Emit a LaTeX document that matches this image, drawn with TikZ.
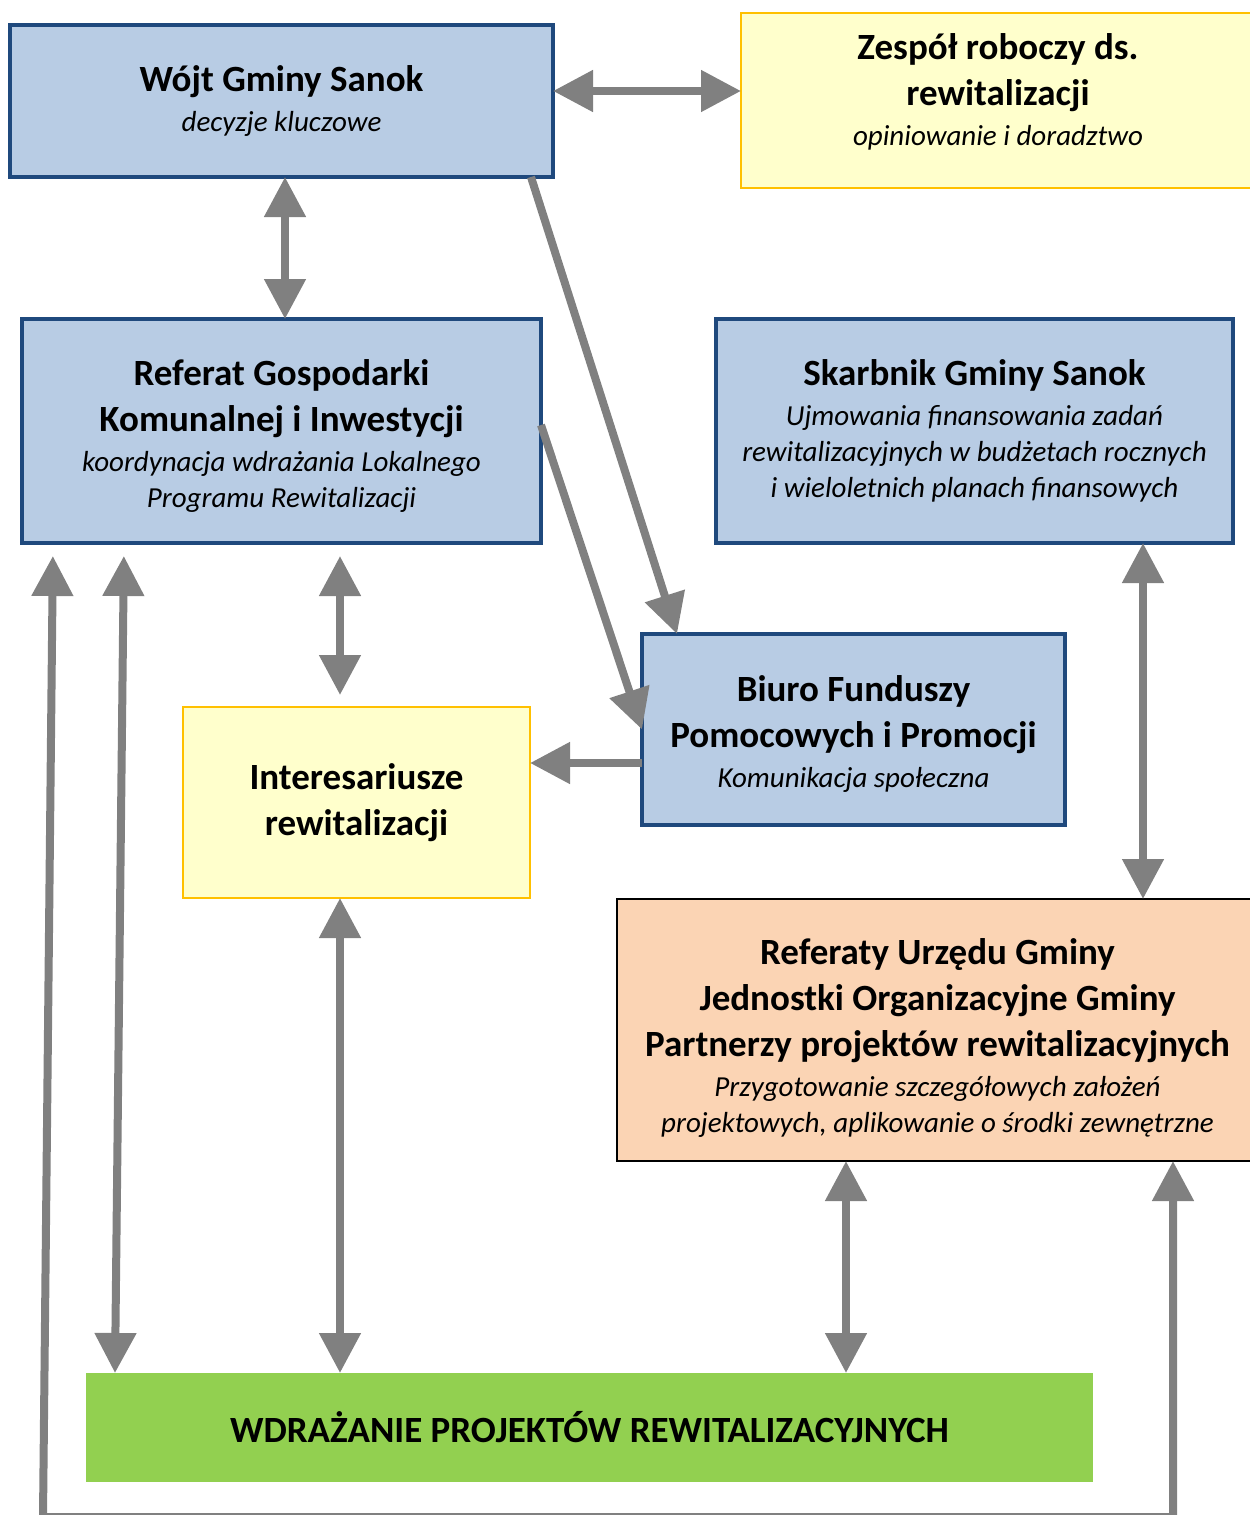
\documentclass[tikz,border=0pt]{standalone}
\usepackage{fontspec}
\setmainfont{Carlito}
\usetikzlibrary{arrows.meta}
\definecolor{niebieski}{HTML}{B8CCE4}
\definecolor{granat}{HTML}{1F497D}
\definecolor{zolty}{HTML}{FFFFCC}
\definecolor{pomarancz}{HTML}{FFC000}
\definecolor{brzoskwinia}{HTML}{FBD4B4}
\definecolor{zielony}{HTML}{92D050}
\definecolor{szary}{HTML}{808080}
\newcommand{\opis}{\fontsize{29}{36}\selectfont\mdseries\itshape}

\begin{document}
\begin{tikzpicture}[line join=miter,x=1pt,y=-1pt,>={Triangle[width=40pt,length=40pt]},
  box/.style={outer sep=0pt,inner sep=2pt,align=center,font=\fontsize{37}{46}\selectfont\bfseries},
  bluebox/.style={box,draw=granat,line width=3.5pt,fill=niebieski},
  yellowbox/.style={box,draw=pomarancz,line width=2pt,fill=zolty},
  arr/.style={draw=szary,line width=8pt}]
\useasboundingbox (0,0) rectangle (1250,1515);
\node[bluebox,minimum width=543,minimum height=152] (wojt) at (281.5,101) {W\'ojt Gminy Sanok\\[-6pt]\opis decyzje kluczowe};
\node[yellowbox,minimum width=514,minimum height=175] (zes) at (998,100.5) {};
\node[box] (zes-t) at (998,91.5) {Zespół roboczy ds.\\rewitalizacji\\[-6pt]\opis opiniowanie i doradztwo};
\node[bluebox,minimum width=519,minimum height=224] (ref) at (281.5,431) {};
\node[box] (ref-t) at (281.5,436) {Referat Gospodarki\\Komunalnej i Inwestycji\\[-6pt]\opis koordynacja wdrażania Lokalnego\\[-10pt]\opis Programu Rewitalizacji};
\node[bluebox,minimum width=517,minimum height=224] (skarb) at (974.5,431) {Skarbnik Gminy Sanok\\[-6pt]\opis Ujmowania finansowania zadań\\[-10pt]\opis rewitalizacyjnych w budżetach rocznych\\[-10pt]\opis i wieloletnich planach finansowych};
\node[bluebox,minimum width=423,minimum height=191] (biuro) at (853.5,729.5) {};
\node[box] (biuro-t) at (853.5,734) {Biuro Funduszy\\Pomocowych i Promocji\\[-6pt]\opis Komunikacja społeczna};
\node[yellowbox,minimum width=347,minimum height=191] (int) at (356.5,802.5) {Interesariusze\\rewitalizacji};
\node[box,draw=black,line width=2pt,fill=brzoskwinia,minimum width=641,minimum height=262] (refy) at (937.5,1030) {};
\node[box] (refy-t) at (937.5,1038) {Referaty Urzędu Gminy\\Jednostki Organizacyjne Gminy\\Partnerzy projektów rewitalizacyjnych\\[-6pt]\opis Przygotowanie szczegółowych założeń\\[-10pt]\opis projektowych, aplikowanie o środki zewnętrzne};
\node[box,fill=zielony,minimum width=1007,minimum height=109] (wdr) at (589.5,1427.5) {WDRAŻANIE PROJEKTÓW REWITALIZACYJNYCH};
\coordinate (w1) at ([yshift=10pt]wojt.east);
\draw[arr,<->] (w1) -- (w1 -| zes.west);
\draw[arr,<->] ([xshift=3.5pt]wojt.south) -- ([xshift=3.5pt]ref.north);
\draw[arr,->] ([xshift=-22pt]wojt.south east) -- ([xshift=35pt]biuro.north west);
\draw[arr,->] ([yshift=6pt]ref.east) -- (biuro.west);
\draw[arr,<->,shorten <=13pt,shorten >=12pt] (340,0 |- ref.south) -- (340,0 |- int.north);
\draw[arr,->] (biuro.west |- 0,763) -- (int.east |- 0,763);
\draw[arr,<->] (1143,0 |- skarb.south) -- (1143,0 |- refy.north);
\draw[arr,<->] (340,0 |- int.south) -- (340,0 |- wdr.north);
\draw[arr,<->] (846,0 |- refy.south) -- (846,0 |- wdr.north);
\draw[arr,<->,shorten <=13pt] (124,0 |- ref.south) -- (115,0 |- wdr.north);
\draw[arr,<->,shorten <=13pt] (53,0 |- ref.south) -- (43,1517) -- (1173,1517) -- (1173,0 |- refy.south);
\end{tikzpicture}
\end{document}
